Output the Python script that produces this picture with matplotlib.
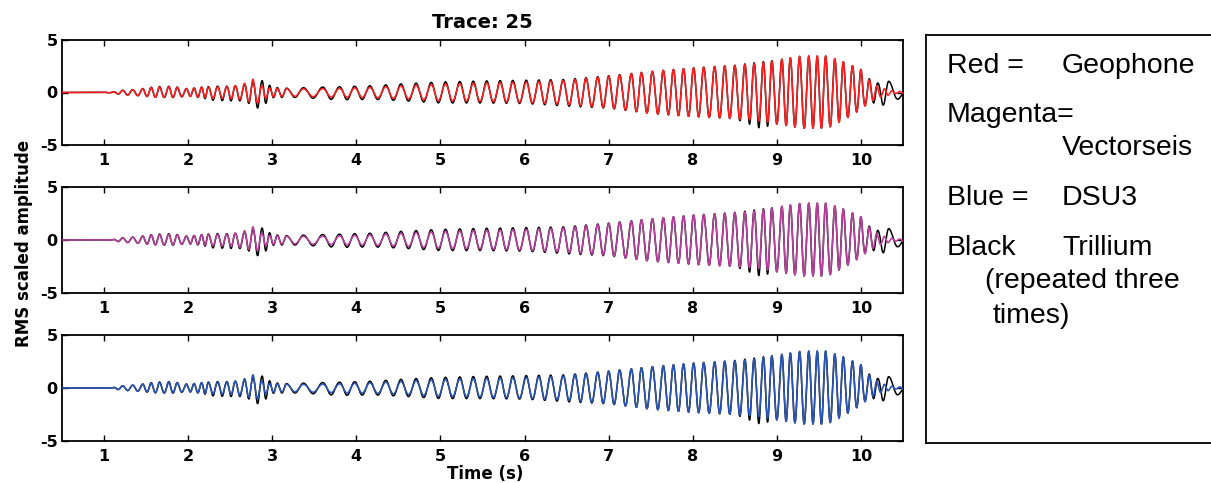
import numpy as np
import matplotlib
matplotlib.use("Agg")
import matplotlib.pyplot as plt

plt.rcParams['axes.unicode_minus'] = False

W, H = 1211, 483

# ---------------- data ----------------
# times (s) of successive positive peaks shared by all traces
common_peaks = [1.00, 1.11, 1.22, 1.34, 1.46, 1.56, 1.66, 1.77, 1.87, 1.98,
                2.07, 2.16, 2.24, 2.35, 2.46, 2.56, 2.67, 2.77, 2.88, 2.97,
                3.06, 3.17, 3.37, 3.60, 3.80, 3.98, 4.16, 4.35, 4.53, 4.71,
                4.89, 5.06, 5.23, 5.39, 5.55, 5.71, 5.86, 6.02, 6.17, 6.31,
                6.46, 6.60, 6.73, 6.87, 7.00, 7.13, 7.27, 7.39, 7.52, 7.65,
                7.77, 7.89, 8.01, 8.13, 8.26, 8.38, 8.50, 8.62, 8.73, 8.84,
                8.94, 9.06, 9.16, 9.27, 9.38, 9.48, 9.58, 9.69, 9.79, 9.90,
                10.00, 10.10]
trillium_tail_peaks = [10.20, 10.33, 10.57]
sensor_tail_peaks = [10.19, 10.28, 10.37, 10.46, 10.55]

# envelope knots (s) and amplitudes (upper / lower)
env_t = [0.5, 1.1, 1.2, 1.4, 1.6, 1.8, 2.0, 2.15, 2.3, 2.5, 2.65, 2.77, 2.83,
         2.9, 3.0, 3.2, 3.5, 3.8, 4.2, 4.6, 5.0, 5.5, 6.0, 6.5, 7.0, 7.5,
         8.0, 8.5, 8.8, 9.0, 9.3, 9.6, 9.8, 10.0, 10.1, 10.2, 10.3, 10.4, 10.5]
trillium_up = [0, 0.03, 0.2, 0.3, 0.55, 0.6, 0.35, 0.5, 0.6, 0.6, 0.7, 1.0, 1.2,
               1.1, 0.5, 0.4, 0.5, 0.55, 0.65, 0.85, 1.0, 1.1, 1.17, 1.25, 1.6,
               2.0, 2.35, 2.6, 2.9, 3.1, 3.45, 3.45, 2.9, 2.2, 1.3, 0.9, 1.1, 1.0, 0.3]
trillium_dn = [0, 0.03, 0.2, 0.3, 0.45, 0.5, 0.35, 0.5, 0.75, 0.8, 0.8, 1.2, 1.5,
               1.2, 0.5, 0.45, 0.55, 0.7, 0.65, 0.8, 1.0, 1.0, 1.05, 1.3, 1.5,
               2.0, 2.3, 2.5, 3.4, 3.0, 3.4, 3.4, 2.6, 1.6, 0.8, 1.2, 1.2, 0.9, 0.3]
geophone_up = [0, 0.03, 0.2, 0.3, 0.5, 0.55, 0.35, 0.5, 0.5, 0.55, 0.8, 1.25, 1.0,
               0.5, 0.4, 0.35, 0.35, 0.4, 0.5, 0.65, 0.8, 0.9, 1.0, 1.15, 1.55,
               2.0, 2.35, 2.55, 2.8, 3.1, 3.5, 3.5, 2.9, 2.2, 1.2, 0.55, 0.3, 0.1, 0.1]
geophone_dn = [0, 0.03, 0.2, 0.3, 0.45, 0.45, 0.35, 0.45, 0.55, 0.6, 0.7, 1.0, 1.0,
               0.6, 0.4, 0.35, 0.4, 0.45, 0.5, 0.6, 0.8, 0.85, 0.95, 1.15, 1.45,
               2.0, 2.3, 2.5, 2.7, 3.0, 3.4, 3.4, 2.6, 1.6, 1.0, 0.5, 0.3, 0.1, 0.1]
vectorseis_up = geophone_up
vectorseis_dn = geophone_dn
dsu3_up = geophone_up
dsu3_dn = geophone_dn

panel_colors = ['#ff1f1f', '#b8409c', '#2a55b5']
xtick_vals = [1, 2, 3, 4, 5, 6, 7, 8, 9, 10]
ytick_vals = [-5, 0, 5]
legend_lines = [("Red =", "Geophone"), ("Magenta=", ""), ("", "Vectorseis"),
                ("Blue =", "DSU3"), ("Black", "Trillium")]
title_text = "Trace: 25"

# ---------------- build traces ----------------
t = np.arange(0.5, 10.5001, 0.002)


def trace(peaks, up, dn):
    peaks = np.asarray(peaks)
    ph = np.interp(t, peaks, np.pi / 2 + 2 * np.pi * np.arange(len(peaks)))
    s = np.sin(ph)
    eu = np.interp(t, env_t, up)
    ed = np.interp(t, env_t, dn)
    return np.where(s > 0, eu * s, ed * s)


black = trace(common_peaks + trillium_tail_peaks, trillium_up, trillium_dn)
sensors = [trace(common_peaks + sensor_tail_peaks, geophone_up, geophone_dn),
           trace(common_peaks + sensor_tail_peaks, vectorseis_up, vectorseis_dn),
           trace(common_peaks + sensor_tail_peaks, dsu3_up, dsu3_dn)]

# ---------------- figure ----------------
fig = plt.figure(figsize=(W / 100, H / 100), dpi=100)

left, right = 62 / W, 903 / W
panels_px = [(40, 145), (187, 293), (335, 441)]

axes = []
for i, (top, bot) in enumerate(panels_px):
    ax = fig.add_axes([left, 1 - bot / H, right - left, (bot - top) / H])
    ax.plot(t, black, color='black', lw=1.1, zorder=2)
    ax.plot(t, sensors[i], color=panel_colors[i], lw=1.15, zorder=3)
    ax.set_xlim(0.5, 10.5)
    ax.set_ylim(-5, 5)
    ax.set_xticks(xtick_vals)
    ax.set_yticks(ytick_vals)
    ax.tick_params(direction='in', top=True, right=True, length=4, width=1,
                   pad=5.5, axis='x')
    ax.tick_params(direction='in', top=True, right=True, length=4, width=1,
                   pad=3, axis='y')
    for lab in ax.get_xticklabels() + ax.get_yticklabels():
        lab.set_fontfamily('DejaVu Sans')
        lab.set_fontweight('bold')
        lab.set_fontsize(11.5)
    for sp in ax.spines.values():
        sp.set_linewidth(1.3)
    axes.append(ax)

axes[0].set_title(title_text, fontsize=14, fontweight='bold',
                  family='DejaVu Sans', pad=9)
fig.text(485 / W, 1 - 479 / H, "Time (s)", ha='center', va='baseline',
         fontsize=12, fontweight='bold', family='DejaVu Sans')
fig.text(24 / W, 1 - 243 / H, "RMS scaled amplitude", rotation=90,
         ha='center', va='center', fontsize=12, fontweight='bold',
         family='DejaVu Sans')

# legend box
lax = fig.add_axes([926 / W, 1 - 443 / H, (W - 926) / W + 0.01, (443 - 35) / H])
lax.set_xticks([])
lax.set_yticks([])
for sp in lax.spines.values():
    sp.set_linewidth(1.3)
lax.spines['right'].set_visible(False)

lfont = dict(family='Liberation Sans', fontsize=20.5, va='baseline')
baselines = [73, 122, 155, 205, 255]
for (a, b), yb in zip(legend_lines, baselines):
    if a:
        fig.text(947 / W, 1 - yb / H, a, **lfont)
    if b:
        fig.text(1062 / W, 1 - yb / H, b, **lfont)
fig.text(985 / W, 1 - 288 / H, "(repeated three", **lfont)
fig.text(993 / W, 1 - 323 / H, "times)", **lfont)

fig.savefig("out.png", dpi=100)
